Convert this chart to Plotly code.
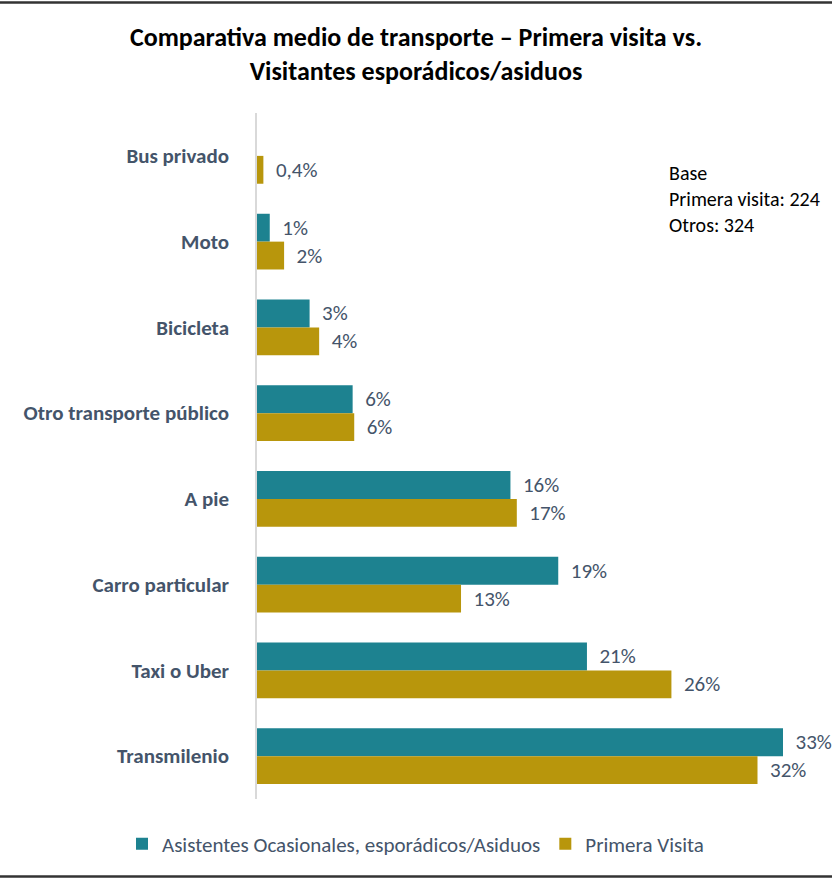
import plotly.graph_objects as go

categories = ["Bus privado", "Moto", "Bicicleta", "Otro transporte público",
              "A pie", "Carro particular", "Taxi o Uber", "Transmilenio"]
frecuentes = [None, 0.8, 3.3, 6.0, 15.9, 18.9, 20.7, 33.0]
frecuentes_labels = ["", "1%", "3%", "6%", "16%", "19%", "21%", "33%"]
primera = [0.4, 1.7, 3.9, 6.1, 16.3, 12.8, 26.0, 31.4]
primera_labels = ["0,4%", "2%", "4%", "6%", "17%", "13%", "26%", "32%"]
series_names = ["Asistentes Ocasionales, esporádicos/Asiduos", "Primera Visita"]

TEAL = "#1d8290"
GOLD = "#b8960c"
SLATE = "#44546a"
FONT = "Carlito, Lato, 'Open Sans', sans-serif"
FS = 21

fig = go.Figure()
fig.add_trace(go.Bar(
    y=categories, x=frecuentes, orientation="h", name=series_names[0],
    marker=dict(color=TEAL, line=dict(width=0)),
    text=["  " + t if t else "" for t in frecuentes_labels],
    textposition="outside", cliponaxis=False,
    textfont=dict(color=SLATE, size=FS, family=FONT),
))
fig.add_trace(go.Bar(
    y=categories, x=primera, orientation="h", name=series_names[1],
    marker=dict(color=GOLD, line=dict(width=0)),
    text=["  " + t for t in primera_labels],
    textposition="outside", cliponaxis=False,
    textfont=dict(color=SLATE, size=FS, family=FONT),
))

L, R, T, B = 257, 20, 113, 84
W, H = 832, 883
pw = W - L - R
ph = H - T - B

fig.update_layout(
    width=W, height=H,
    margin=dict(l=L, r=R, t=T, b=B, autoexpand=False),
    paper_bgcolor="white", plot_bgcolor="white",
    barmode="group", bargap=0.35, bargroupgap=0,
    font=dict(family=FONT, color=SLATE, size=FS),
    title=dict(
        text="<b>Comparativa medio de transporte – Primera visita vs.<br>Visitantes esporádicos/asiduos</b>",
        x=0.5, xref="container", xanchor="center",
        y=1 - 46 / H, yref="container", yanchor="top",
        font=dict(size=26, color="#000000", family=FONT),
    ),
    xaxis=dict(range=[0, 33.0 * pw / 526], visible=False, showgrid=False, zeroline=False),
    yaxis=dict(autorange="reversed", showgrid=False, zeroline=False,
               showline=True, linecolor="#d9d9d9", linewidth=1.5,
               ticks="", ticklabelstandoff=22,
               tickfont=dict(size=FS, color=SLATE, family=FONT)),
    legend=dict(orientation="h", xref="paper", x=(122 - L) / pw, xanchor="left",
                yref="paper", y=(T + ph - 844) / ph, yanchor="middle",
                bgcolor="rgba(0,0,0,0)",
                font=dict(size=FS, color=SLATE, family=FONT),
                itemwidth=30, traceorder="normal"),
    showlegend=True,
)
fig.update_yaxes(tickprefix="<b>", ticksuffix="</b>")

fig.add_annotation(
    text="Base<br>Primera visita: 224<br>Otros: 324",
    xref="paper", yref="paper",
    x=(667 - L) / pw, y=(T + ph - 159) / ph,
    xanchor="left", yanchor="top", align="left", showarrow=False,
    font=dict(size=20, color="#000000", family=FONT),
)

# frame lines at top and bottom
for ypx in (2.5, 876.5):
    fig.add_shape(type="line", xref="paper", yref="paper",
                  x0=-L / pw, x1=(W - L) / pw,
                  y0=(T + ph - ypx) / ph, y1=(T + ph - ypx) / ph,
                  line=dict(color="#333333", width=2.5))

fig.write_html("out.html", config={"displayModeBar": False},
               post_script="document.body.style.margin='0';")
